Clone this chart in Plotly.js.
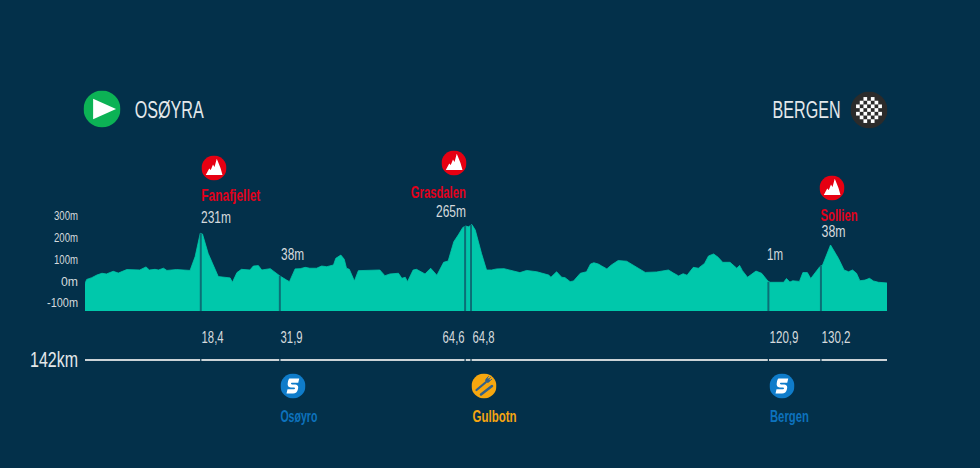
<!DOCTYPE html>
<html>
<head>
<meta charset="utf-8">
<script src="https://cdn.plot.ly/plotly-3.0.1.min.js"></script>
<style>html,body{margin:0;padding:0;background:#03304a;overflow:hidden}#c{width:980px;height:468px}</style>
</head>
<body>
<div id="c"></div>
<script>
// Elevation profile
const distanceKm = [0,0.3,1.2,2.1,3,3.8,5,5.9,7.4,9.7,10.8,11.4,12.4,13,13.9,14.5,16.2,18.6,19.5,20.4,20.8,21.8,22.7,23.6,25.7,26.1,26.9,27.7,29.2,29.8,30.7,31.3,32.8,34.5,35.7,36.2,37.2,38.1,39,39.8,41,41.9,42.8,44,44.4,45.3,45.9,46.3,46.8,47.7,48.4,49.9,51.4,52.2,53.1,54,55.5,56.1,56.7,57.1,58.1,58.7,60.2,61.2,62.3,63.5,64.3,65.3,66.1,66.9,67.4,67.9,68.5,69.1,70.2,71.1,72,72.9,74.2,75.6,77,78.2,80,82.1,82.5,83.5,84.4,85,85.9,86.5,87.7,88.8,89.5,90.1,90.9,91.5,92.4,93.2,94.4,95.9,97.7,99.2,101.2,103.3,104.2,105.1,105.9,106.6,107.7,108.6,109.7,110.4,111.3,112.1,112.9,114.2,115.4,115.9,116.4,117.3,118.8,119.8,120.9,121.3,123.7,124.2,124.8,125.3,126.5,127.1,127.9,128.5,130.1,130.6,132,133.4,134.4,135.2,135.9,136.6,137.2,138.1,138.9,139.6,140.5,142];
const elevationM = [-11,7,15,27,35,32,44,36,52,50,64,50,53,50,58,48,52,48,111,217,214,126,73,20,14,-6,38,53,50,68,70,50,56,23,4,-3,55,56,62,58,58,68,65,73,103,118,99,58,53,0,47,48,50,50,24,32,35,12,17,-3,50,53,32,58,26,85,91,179,210,244,250,247,257,232,126,50,50,55,56,47,38,48,42,27,17,42,17,15,-3,0,35,42,77,83,77,68,55,73,93,90,61,39,41,50,36,23,33,26,62,58,80,114,123,108,85,85,58,71,47,17,45,35,0,-6,-6,11,-5,1,-2,38,38,11,65,73,164,103,50,42,50,35,1,4,12,0,-6,-9];
const baseM = -137;

// Marked points along the route (drawn position, printed label, profile height there)
const markKm = [20.5,34.5,67.3,68.35,121,130.3];
const markLabels = ['18,4','31,9','64,6','64,8','120,9','130,2'];
const markElev = [217,23,250,255,-4,70];
const markLabelSide = [1,1,-1,1,1,1];

const yTicks = [-100,0,100,200,300];

const bg='#03304a', teal='#00c8ab', stem='#0b6f76', grey='#d5dadd', red='#e2001a', blue='#0d72bd', orange='#f5a511';
const FONT='"Liberation Sans",sans-serif';

// plot-frame in page pixels
const L=85,R=887,T=205,B=359;
const pxX=x=>(x-L)/(R-L), pxY=y=>(B-y)/(B-T);

const fitWidths=[];
function note(text,x0,x1,y,size,color,bold){
  fitWidths.push(x1-x0);
  return {text:text,xref:'paper',yref:'paper',x:pxX((x0+x1)/2),y:pxY(y),xanchor:'center',yanchor:'middle',
    showarrow:false,font:{family:FONT,size:size,color:color,weight:bold?700:400},borderpad:0,borderwidth:0};
}
const annotations=[
  note('OSØYRA',135,204,110,23,'#e4e8ea'),
  note('BERGEN',772,840,110,23,'#e4e8ea'),
  note('Fanafjellet',201,260,195.5,16.5,red,true),
  note('231m',201,231,217,16,grey),
  note('Grasdalen',411,466,191.5,16.5,red,true),
  note('265m',436,466,211,16,grey),
  note('Sollien',820,857,214.5,16.5,red,true),
  note('38m',821,845,231,16,grey),
  note('38m',281,304,254,16,grey),
  note('1m',767,783,254,16,grey),
  note('142km',30,78,359,22,'#e4e8ea'),
  note('Osøyro',280,317,415.5,16.5,blue,true),
  note('Gulbotn',472,516,415.5,16.5,orange,true),
  note('Bergen',770,809,415.5,16.5,blue,true)
];
markLabels.forEach((t,i)=>{
  const w=t.length>4?29:22;
  fitWidths.push(w);
  annotations.push({text:t,xref:'x',x:markKm[i],xshift:markLabelSide[i]*(w/2+1),yref:'paper',y:pxY(337),xanchor:'center',yanchor:'middle',
    showarrow:false,font:{family:FONT,size:16,color:grey},borderpad:0});
});

function svg(inner){return 'data:image/svg+xml;utf8,'+encodeURIComponent('<svg xmlns="http://www.w3.org/2000/svg" viewBox="0 0 100 100" width="100" height="100">'+inner+'</svg>');}
const peak=svg('<circle cx="50" cy="50" r="50" fill="#e60012"/><path d="M17 78 L31 52 L37 58 L46 36 L52 46 L61 13 L68 30 L76 50 L84 78 Z" fill="#fff"/>');
const play=svg('<circle cx="50" cy="50" r="50" fill="#0cb255"/><path d="M26 22 L26 78 L88 50 Z" fill="#fff"/>');
const sprint=svg('<circle cx="50" cy="50" r="50" fill="#0f7cca"/><path d="M36 20 H75 L71 37 H45 Q41 37 42 41 Q43 44 47 44 H60 Q74 46 70 62 Q66 80 50 80 H24 L28 63 H54 Q58 63 58 59 Q58 56 54 56 H41 Q26 54 29 38 Q31 22 36 20 Z" fill="#fff"/>');
const food=svg('<circle cx="50" cy="50" r="50" fill="#f7a70f"/><g stroke="#33618a" fill="none" stroke-linecap="round"><path d="M20 66 L56 36" stroke-width="9"/><circle cx="64" cy="28" r="8" fill="#33618a" stroke-width="3"/><path d="M60 20 L68 12 M66 25 L76 16 M71 31 L81 23" stroke-width="4"/><path d="M38 84 L82 50" stroke-width="10"/></g>');
let check='<circle cx="50" cy="50" r="50" fill="#2b2b2b"/>';
for(let r=0;r<7;r++)for(let c=0;c<7;c++){
  const cx=c-3,cy=r-3;
  if((r+c)%2===0 && Math.abs(cx)+Math.abs(cy)<=5) check+=`<rect x="${15+c*10}" y="${15+r*10}" width="10" height="10" fill="#fff"/>`;
}
const flag=svg(check);
function icon(src,cx,cy,d){return {source:src,xref:'paper',yref:'paper',x:pxX(cx),y:pxY(cy),sizex:d/(R-L),sizey:d/(B-T),xanchor:'center',yanchor:'middle',sizing:'stretch',layer:'above'};}
const images=[icon(play,102,109,37),icon(flag,869,110,37),icon(peak,214,168,25),icon(peak,454,163,25),icon(peak,832,188,25),
  icon(sprint,293,386,25),icon(food,484,386,25),icon(sprint,782,386,25)];

const traces=[
  {x:[0,142],y:[baseM,baseM],mode:'lines',line:{width:0,color:teal},hoverinfo:'skip'},
  {x:distanceKm,y:elevationM,mode:'lines',fill:'tonexty',fillcolor:teal,line:{color:teal,width:0.8}},
];
markKm.forEach((k,i)=>traces.push({x:[k,k],y:[baseM,markElev[i]],mode:'lines',line:{color:stem,width:2},hoverinfo:'skip'}));
traces.push({x:markKm,y:markKm.map(()=>-355),mode:'markers',cliponaxis:false,marker:{symbol:'line-ns-open',size:7,color:bg,line:{color:bg,width:1.2}},hoverinfo:'skip'});

const layout={
  width:980,height:468,paper_bgcolor:bg,plot_bgcolor:bg,showlegend:false,
  margin:{l:L,r:980-R,t:T,b:468-B,pad:0},
  xaxis:{range:[0,142],showgrid:false,zeroline:false,showline:true,linecolor:'#ccd3d7',linewidth:2,ticks:'',showticklabels:false,layer:'below traces',fixedrange:true},
  yaxis:{range:[-355.4,346],showgrid:false,zeroline:false,showline:false,tickvals:yTicks,ticktext:yTicks.map(v=>v+'m'),ticks:'',
    tickfont:{family:FONT,size:13,color:grey},ticklabelstandoff:6,fixedrange:true},
  annotations:annotations,images:images
};
// The reference lettering is a condensed face: fit each real text to its measured width.
function condense(){
  document.querySelectorAll('.annotation-text').forEach((el,i)=>{
    el.setAttribute('textLength',fitWidths[i]);
    el.setAttribute('lengthAdjust','spacingAndGlyphs');
  });
  document.querySelectorAll('.ytick text').forEach(el=>{
    el.setAttribute('textLength',el.textContent.length>4?31:(el.textContent.length>2?24:17));
    el.setAttribute('lengthAdjust','spacingAndGlyphs');
  });
}
Plotly.newPlot('c',traces,layout,{displayModeBar:false,staticPlot:true}).then(condense);
</script>
</body>
</html>
